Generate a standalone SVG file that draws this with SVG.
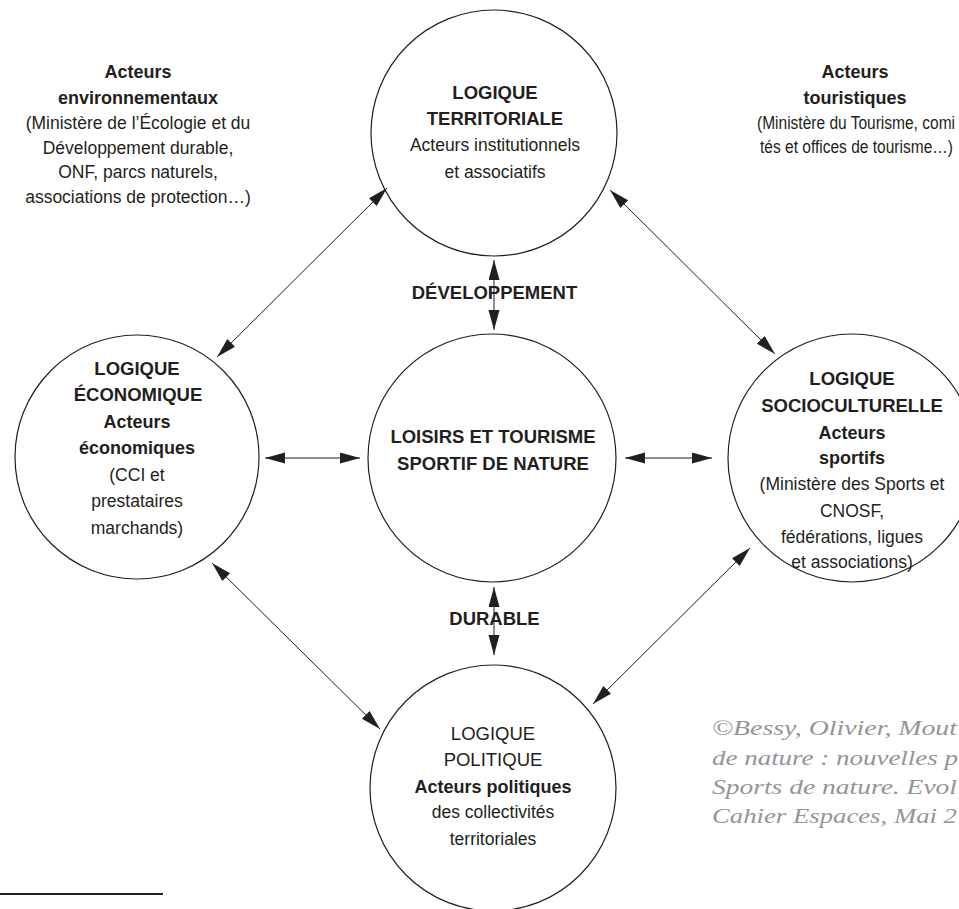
<svg xmlns="http://www.w3.org/2000/svg" width="959" height="909" viewBox="0 0 959 909">
<defs>
<style>
.c{fill:none;stroke:#231f20;stroke-width:1.2}
.t{font-family:"Liberation Sans",Arial,sans-serif;fill:#231f20;text-anchor:middle}
.h{font-size:18.5px;font-weight:bold}
.hr{font-size:18.5px}
.b{font-size:18px;font-weight:bold}
.r{font-size:17.5px}
.a{stroke:#231f20;stroke-width:1;fill:none;marker-start:url(#ah);marker-end:url(#ah)}
.cp{font-family:"Liberation Serif","Times New Roman",serif;font-style:italic;font-size:22px;fill:#939598}
</style>
<marker id="ah" markerUnits="userSpaceOnUse" markerWidth="22" markerHeight="12" refX="20" refY="5.5" orient="auto-start-reverse" viewBox="0 0 22 12">
<path d="M0,0 L20,5.5 L0,11 z" fill="#231f20"/>
</marker>
</defs>
<rect width="959" height="909" fill="#ffffff"/>

<g id="connectors">
<line class="a" x1="217" y1="357" x2="387" y2="188"/>
<line class="a" x1="610" y1="190" x2="775" y2="354"/>
<line class="a" x1="212" y1="563" x2="380" y2="729"/>
<line class="a" x1="750" y1="548" x2="593" y2="704"/>
<line class="a" x1="265" y1="458" x2="360" y2="458"/>
<line class="a" x1="625" y1="458" x2="712" y2="458"/>
<line class="a" x1="494" y1="260" x2="494" y2="330"/>
<line class="a" x1="494" y1="587" x2="494" y2="655"/>
</g>

<g id="label-developpement"><text class="t h" x="494.5" y="299">DÉVELOPPEMENT</text></g>
<g id="label-durable"><text class="t h" x="494.5" y="625">DURABLE</text></g>

<g id="acteurs-environnementaux">
<text class="t b" x="138" y="78">Acteurs</text>
<text class="t b" x="138" y="104">environnementaux</text>
<text class="t r" x="138" y="129">(Ministère de l’Écologie et du</text>
<text class="t r" x="138" y="154">Développement durable,</text>
<text class="t r" x="138" y="178">ONF, parcs naturels,</text>
<text class="t r" x="138" y="203">associations de protection…)</text>
</g>

<g id="acteurs-touristiques">
<text class="t b" x="855" y="78">Acteurs</text>
<text class="t b" x="855" y="104">touristiques</text>
<text class="t r" x="757" y="129" style="text-anchor:start" textLength="198" lengthAdjust="spacingAndGlyphs">(Ministère du Tourisme, comi</text>
<text class="t r" x="760" y="153" style="text-anchor:start" textLength="193" lengthAdjust="spacingAndGlyphs">tés et offices de tourisme…)</text>
</g>

<g id="logique-territoriale">
<circle class="c" cx="494" cy="133" r="123"/>
<text class="t h" x="495" y="99">LOGIQUE</text>
<text class="t h" x="495" y="125">TERRITORIALE</text>
<text class="t r" x="495" y="151">Acteurs institutionnels</text>
<text class="t r" x="495" y="178">et associatifs</text>
</g>

<g id="logique-economique">
<circle class="c" cx="137" cy="457" r="122"/>
<text class="t h" x="137" y="375">LOGIQUE</text>
<text class="t h" x="138" y="401">ÉCONOMIQUE</text>
<text class="t b" x="137" y="428">Acteurs</text>
<text class="t b" x="137" y="454">économiques</text>
<text class="t r" x="137" y="481">(CCI et</text>
<text class="t r" x="137" y="507">prestataires</text>
<text class="t r" x="137" y="534">marchands)</text>
</g>

<g id="loisirs-tourisme">
<circle class="c" cx="492" cy="458" r="124"/>
<text class="t h" x="493" y="443">LOISIRS ET TOURISME</text>
<text class="t h" x="493" y="470">SPORTIF DE NATURE</text>
</g>

<g id="logique-socioculturelle">
<circle class="c" cx="852" cy="458" r="124"/>
<text class="t h" x="852" y="385">LOGIQUE</text>
<text class="t h" x="852" y="412">SOCIOCULTURELLE</text>
<text class="t b" x="852" y="439">Acteurs</text>
<text class="t b" x="852" y="464">sportifs</text>
<text class="t r" x="852" y="490">(Ministère des Sports et</text>
<text class="t r" x="852" y="517">CNOSF,</text>
<text class="t r" x="852" y="543">fédérations, ligues</text>
<text class="t r" x="852" y="568">et associations)</text>
</g>

<g id="logique-politique">
<circle class="c" cx="493" cy="788" r="123"/>
<text class="t hr" x="493" y="740">LOGIQUE</text>
<text class="t hr" x="493" y="766">POLITIQUE</text>
<text class="t b" x="493" y="793">Acteurs politiques</text>
<text class="t r" x="493" y="818">des collectivités</text>
<text class="t r" x="493" y="845">territoriales</text>
</g>

<g id="copyright">
<text class="cp" x="712" y="735" textLength="245" lengthAdjust="spacingAndGlyphs">©Bessy, Olivier, Mout</text>
<text class="cp" x="712" y="765" textLength="246" lengthAdjust="spacingAndGlyphs">de nature : nouvelles p</text>
<text class="cp" x="712" y="794" textLength="245" lengthAdjust="spacingAndGlyphs">Sports de nature. Evol</text>
<text class="cp" x="712" y="823" textLength="245" lengthAdjust="spacingAndGlyphs">Cahier Espaces, Mai 2</text>
</g>

<g id="footnote-rule">
<line x1="0" y1="894" x2="163" y2="894" stroke="#231f20" stroke-width="2"/>
</g>
</svg>
